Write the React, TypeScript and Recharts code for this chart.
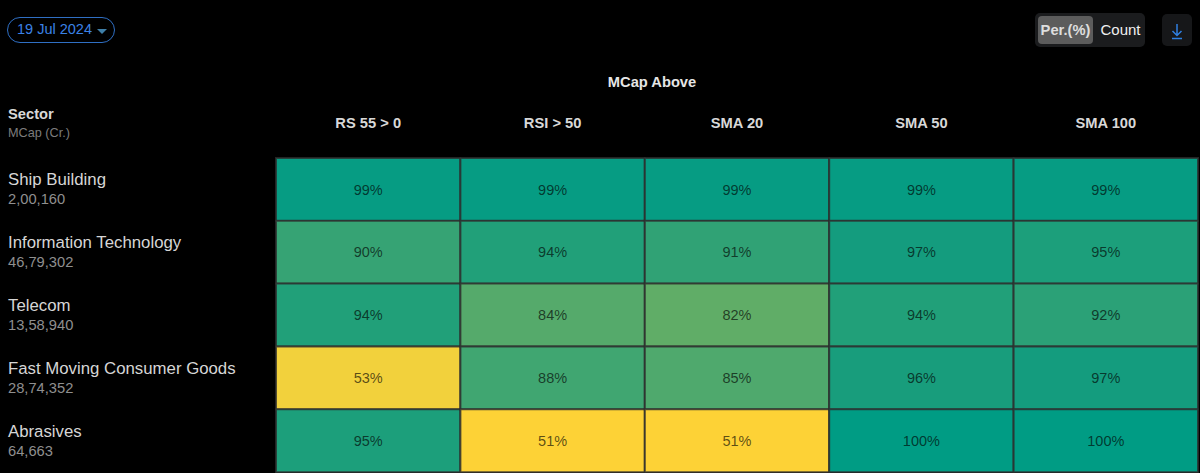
import React from "react";
import { BarChart, Bar, XAxis, YAxis, Cell, LabelList } from "recharts";

const sectors = ["Ship Building", "Information Technology", "Telecom", "Fast Moving Consumer Goods", "Abrasives"];
const mcaps = ["2,00,160", "46,79,302", "13,58,940", "28,74,352", "64,663"];
const columns = ["RS 55 > 0", "RSI > 50", "SMA 20", "SMA 50", "SMA 100"];
const rs55 = [99, 90, 94, 53, 95];
const rsi50 = [99, 94, 84, 88, 51];
const sma20 = [99, 91, 82, 85, 51];
const sma50 = [99, 97, 94, 96, 100];
const sma100 = [99, 95, 92, 97, 100];
const seriesValues = [rs55, rsi50, sma20, sma50, sma100];

const colourByValue: Record<number, string> = {
  100: "#009c84", 99: "#069c83", 97: "#149c7e", 96: "#189d7c", 95: "#1c9f7b", 94: "#21a079",
  92: "#2ba177", 91: "#30a275", 90: "#36a374", 88: "#40a671", 85: "#4fa96d", 84: "#55aa6b",
  82: "#60ad67", 53: "#f2d13c", 51: "#fdd236",
};

const rows = sectors.map((sector, r) => {
  const row: Record<string, string | number> = { sector };
  columns.forEach((c, i) => { row[c] = seriesValues[i][r]; });
  return row;
});

const font = "'Liberation Sans', Arial, sans-serif";

const ColumnTick = (p: any) => (
  <text x={p.x} y={p.y} textAnchor="middle" fontFamily={font} fontSize={14.7} fontWeight={700} fill="#d8d8d8">
    {columns[Math.floor(p.payload.value)]}
  </text>
);

const SectorTick = (p: any) => {
  const i = sectors.indexOf(p.payload.value);
  return (
    <g fontFamily={font}>
      <text x={8} y={p.y - 4} fontSize={16.8} fill="#d6d6d6">{p.payload.value}</text>
      <text x={8} y={p.y + 15} fontSize={14.7} fill="#8f8f8f">{mcaps[i]}</text>
    </g>
  );
};

const box = (s: React.CSSProperties): React.CSSProperties => ({ position: "absolute", fontFamily: font, boxSizing: "border-box", ...s });

export default function App() {
  return (
    <div style={{ position: "absolute", left: 0, top: 0, width: 1200, height: 473, background: "#000", overflow: "hidden" }}>
      <BarChart
        width={1200}
        height={473}
        data={rows}
        layout="vertical"
        barCategoryGap={0}
        margin={{ top: 123, right: 2, bottom: 1, left: 0 }}
      >
        <XAxis
          type="number"
          orientation="top"
          domain={[0, 5]}
          ticks={[0.5, 1.5, 2.5, 3.5, 4.5]}
          height={35}
          axisLine={false}
          tickLine={false}
          tick={<ColumnTick />}
          tickMargin={24}
          interval={0}
        />
        <YAxis
          type="category"
          dataKey="sector"
          width={276}
          axisLine={false}
          tickLine={false}
          tick={<SectorTick />}
          interval={0}
        />
        {columns.map((c) => (
          <Bar key={c} dataKey={() => 1} stackId="cells" isAnimationActive={false} stroke="rgba(45,45,45,0.8)" strokeWidth={2}>
            {rows.map((r) => (
              <Cell key={String(r.sector)} fill={colourByValue[r[c] as number]} />
            ))}
            <LabelList
              valueAccessor={(e: any) => `${e.payload[c]}%`}
              position="center"
              fontFamily={font}
              fontSize={14.5}
              fill="rgba(0,0,0,0.65)"
            />
          </Bar>
        ))}
      </BarChart>

      <div style={box({ left: 7, top: 17, width: 108, height: 26, border: "1px solid #2f6fc4", borderRadius: 13, color: "#3b82e6", fontSize: 14.5, lineHeight: "23px", paddingLeft: 9 })}>
        19 Jul 2024
        <span style={{ position: "absolute", right: 7, top: 11, width: 0, height: 0, borderLeft: "5px solid transparent", borderRight: "5px solid transparent", borderTop: "5px solid #3f7fa8" }} />
      </div>

      <div style={box({ left: 1035, top: 13, width: 110, height: 34, background: "#1b1c1e", borderRadius: 5 })} />
      <div style={box({ left: 1038, top: 16, width: 55, height: 28, background: "#5c5c5c", borderRadius: 4, color: "#dedede", fontSize: 14.7, fontWeight: 700, lineHeight: "28px", textAlign: "center" })}>Per.(%)</div>
      <div style={box({ left: 1093, top: 16, width: 55, height: 28, color: "#f0f0f0", fontSize: 15, lineHeight: "28px", textAlign: "center" })}>Count</div>
      <div style={box({ left: 1162, top: 14, width: 30, height: 32, background: "#161719", borderRadius: 5 })}>
        <svg width={30} height={32}>
          <path d="M15 10 V21 M10.5 17 L15 21.5 L19.5 17 M10 24.5 H20" stroke="#2f7fe0" strokeWidth={1.5} fill="none" />
        </svg>
      </div>

      <div style={box({ left: 552, top: 74, width: 200, color: "#e6e6e6", fontSize: 14.7, fontWeight: 700, textAlign: "center" })}>MCap Above</div>
      <div style={box({ left: 8, top: 106, color: "#d8d8d8", fontSize: 14.7, fontWeight: 700 })}>Sector</div>
      <div style={box({ left: 8, top: 126, color: "#7c7c7c", fontSize: 12.7 })}>MCap (Cr.)</div>
    </div>
  );
}
